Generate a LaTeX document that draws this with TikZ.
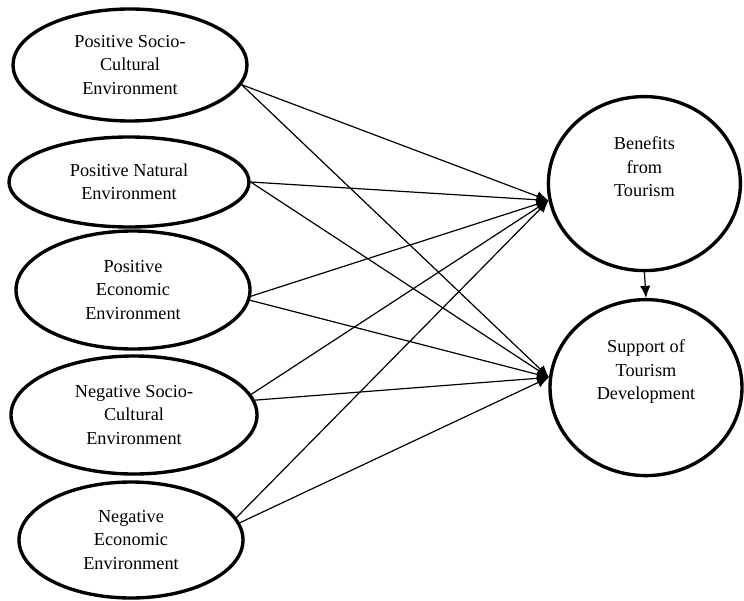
\documentclass[tikz,border=0pt]{standalone}
\usepackage{fontspec}
\setmainfont{Liberation Serif}
\usepackage{tikz}
\usetikzlibrary{arrows.meta,shapes.geometric}

\begin{document}
\begin{tikzpicture}[
  every node/.style={font=\fontsize{13}{16.6}\selectfont, align=center},
  construct/.style={draw=black, ellipse, line width=2.4pt, inner sep=0pt},
  path/.style={-{Latex[length=3mm, width=2.6mm]}, line width=0.85pt},
]
\useasboundingbox (0,0) rectangle (18.6,15);

% Antecedents
\node[construct, minimum width=5.85cm, minimum height=2.8cm] (posSC) at (3.25, 13.375)
  {Positive Socio-\\Cultural\\Environment};
\node[construct, minimum width=6.0cm, minimum height=2.25cm] (posNat) at (3.225, 10.45)
  {Positive Natural\\Environment};
\node[construct, minimum width=5.85cm, minimum height=2.95cm] (posEco) at (3.325, 7.75)
  {Positive\\Economic\\Environment};
\node[construct, minimum width=6.15cm, minimum height=2.95cm] (negSC) at (3.35, 4.625)
  {Negative Socio-\\Cultural\\Environment};
\node[construct, minimum width=5.6cm, minimum height=2.9cm] (negEco) at (3.275, 1.5)
  {Negative\\Economic\\Environment};

% Outcomes
\node[construct, minimum width=4.8cm, minimum height=4.35cm] (benefits) at (16.11, 10.41) {};
\node (benefitsTxt) at ([yshift=0.42cm]benefits.center) {Benefits\\from\\Tourism};
\node[construct, minimum width=4.8cm, minimum height=4.4cm] (support) at (16.15, 5.31) {};
\node (supportTxt) at ([yshift=0.4cm]support.center) {Support of\\Tourism\\Development};

% Paths to benefits
\draw[path] (posSC.-10) -- (benefits.190);
\draw[path] (posNat.0) -- (benefits.190);
\draw[path] (posEco.-3) -- (benefits.190);
\draw[path] (negSC.10) -- (benefits.190);
\draw[path] (negEco.12) -- (benefits.190);

% Paths to support
\draw[path] (posSC.-10) -- (support.174);
\draw[path] (posNat.0) -- (support.174);
\draw[path] (posEco.-5) -- (support.174);
\draw[path] (negSC.7) -- (support.174);
\draw[path] (negEco.9) -- (support.174);

\draw[path] (benefits.south) -- (support.north);

\end{tikzpicture}
\end{document}
